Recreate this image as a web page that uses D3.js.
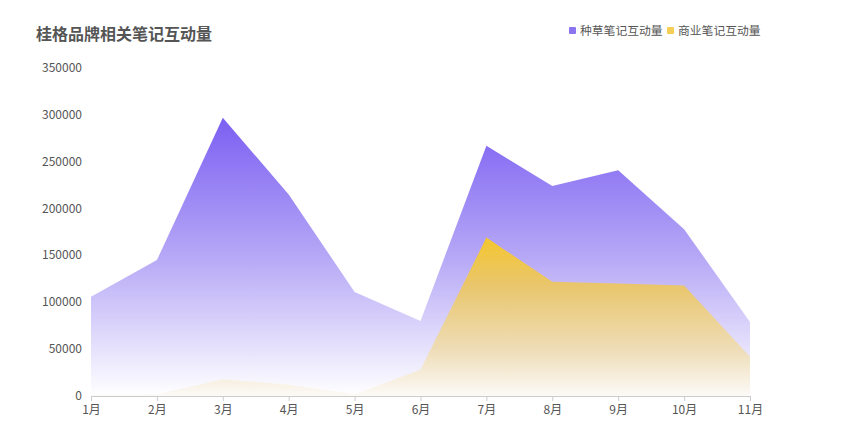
<!DOCTYPE html>
<html><head><meta charset="utf-8">
<script src="https://cdn.jsdelivr.net/npm/d3@7"></script>
<style>body{margin:0;background:#fff;font-family:"Noto Sans CJK SC","Noto Sans",sans-serif;}</style>
</head><body><svg id="c" width="848" height="434"></svg>
<script>
const categories = ["1月","2月","3月","4月","5月","6月","7月","8月","9月","10月","11月"];
const seedingValues = [106000,145000,297000,215000,111000,80000,267000,224000,241000,178000,79000];
const commercialValues = [1000,2000,18000,12000,2000,28000,169000,122000,120000,118000,42000];
const yTicks = [0,50000,100000,150000,200000,250000,300000,350000];
const seriesNames = ["种草笔记互动量","商业笔记互动量"];

const svg = d3.select("#c");
const x = d3.scalePoint().domain(categories).range([91,750]);
const y = d3.scaleLinear().domain([0,350000]).range([396,68]);

const defs = svg.append("defs");
function grad(id, stops){
  const g = defs.append("linearGradient").attr("id",id).attr("x1",0).attr("y1",0).attr("x2",0).attr("y2",1);
  stops.forEach(s=>g.append("stop").attr("offset",s[0]).attr("stop-color",s[1]));
}
grad("gp",[["0%","#7b5ff2"],["50%","#b6a8f6"],["100%","#ffffff"]]);
grad("gy",[["0%","#f4c62f"],["30%","#e9c66c"],["70%","#eedcb5"],["100%","#fcfaf7"]]);

// title
svg.append("text").attr("x",36).attr("y",40).text("桂格品牌相关笔记互动量")
  .attr("font-size",16).attr("font-weight","bold").attr("fill","#555");

// legend
const leg = [{n:seriesNames[0],c:"#8a74f0",x:569},{n:seriesNames[1],c:"#f5cf55",x:667}];
leg.forEach(l=>{
  svg.append("rect").attr("x",l.x).attr("y",27).attr("width",7).attr("height",7).attr("rx",1).attr("fill",l.c);
  svg.append("text").attr("x",l.x+11).attr("y",35).text(l.n).attr("font-size",11.8).attr("fill","#555");
});

// y labels
svg.append("g").selectAll("text").data(yTicks).join("text")
  .attr("x",82).attr("y",d=>y(d)+4).attr("text-anchor","end")
  .attr("font-size",12).attr("fill","#555").text(d=>d);

const area = d3.area().x((d,i)=>x(categories[i])).y0(y(0)).y1(d=>y(d));
svg.append("path").datum(seedingValues).attr("d",area).attr("fill","url(#gp)");
svg.append("path").datum(commercialValues).attr("d",area).attr("fill","url(#gy)");

// x axis
const xa = svg.append("g").attr("transform","translate(0,396)")
  .call(d3.axisBottom(x).tickSize(5).tickPadding(4));
xa.select(".domain").attr("stroke","#ccc");
xa.selectAll(".tick line").attr("stroke","#ccc");
xa.selectAll("text").attr("font-size",12).attr("fill","#555").attr("font-family","Noto Sans CJK SC");
</script></body></html>
